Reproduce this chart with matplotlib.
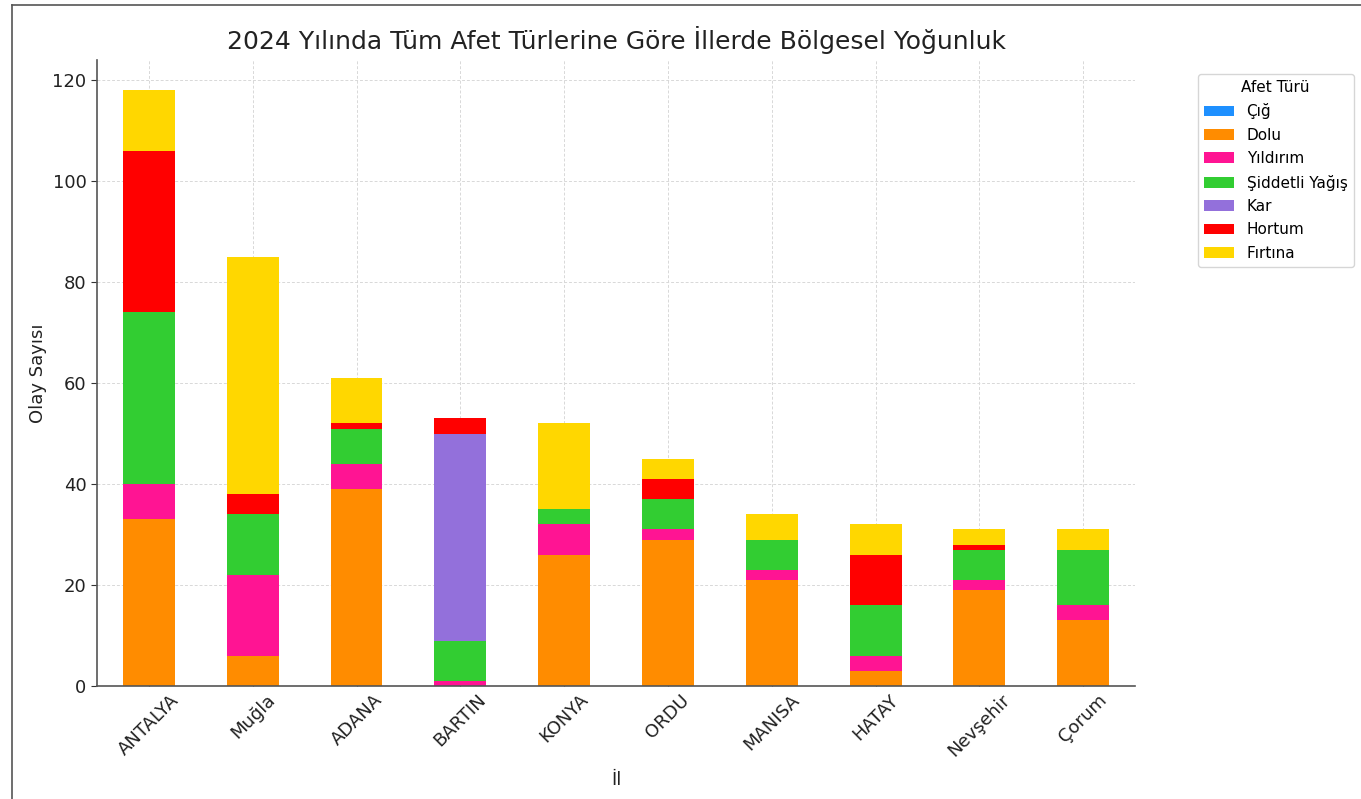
import matplotlib
matplotlib.use("Agg")
import matplotlib.pyplot as plt
from matplotlib.lines import Line2D
import numpy as np

provinces = ["ANTALYA", "Muğla", "ADANA", "BARTIN", "KONYA", "ORDU", "MANISA", "HATAY", "Nevşehir", "Çorum"]
disaster_types = ["Çığ", "Dolu", "Yıldırım", "Şiddetli Yağış", "Kar", "Hortum", "Fırtına"]

cig      = [0, 0, 0, 0, 0, 0, 0, 0, 0, 0]
dolu     = [33, 6, 39, 0, 26, 29, 21, 3, 19, 13]
yildirim = [7, 16, 5, 1, 6, 2, 2, 3, 2, 3]
siddetli = [34, 12, 7, 8, 3, 6, 6, 10, 6, 11]
kar      = [0, 0, 0, 41, 0, 0, 0, 0, 0, 0]
hortum   = [32, 4, 1, 3, 0, 4, 0, 10, 1, 0]
firtina  = [12, 47, 9, 0, 17, 4, 5, 6, 3, 4]

series = [cig, dolu, yildirim, siddetli, kar, hortum, firtina]
colors = ["#1E90FF", "#FF8C00", "#FF1493", "#32CD32", "#9370DB", "#FF0000", "#FFD700"]

plt.rcParams['font.family'] = ['DejaVu Sans']

fig = plt.figure(figsize=(13.61, 7.99), dpi=100)
ax = fig.add_axes([0.0713, 0.1414, 0.7627, 0.7836])

x = np.arange(len(provinces))
bottom = np.zeros(len(provinces))
for name, vals, c in zip(disaster_types, series, colors):
    v = np.array(vals, dtype=float)
    ax.bar(x, v, 0.5, bottom=bottom, color=c, label=name, zorder=2)
    bottom += v

ax.set_xlim(-0.5, 9.5)
ax.set_ylim(0, 124)
ax.set_xticks(x)
ax.set_xticklabels(provinces, rotation=45, fontsize=13)
ax.set_yticks([0, 20, 40, 60, 80, 100, 120])
ax.tick_params(axis='y', labelsize=13, colors='#333333', length=4)
ax.tick_params(axis='x', labelsize=13, colors='#333333', direction='in', length=4)
for lab in ax.get_xticklabels() + ax.get_yticklabels():
    lab.set_color('#222222')

ax.grid(True, linestyle=(0, (3, 2)), color='#d8d8d8', linewidth=0.7, zorder=0)
ax.set_axisbelow(True)
for s in ['top', 'right']:
    ax.spines[s].set_visible(False)
for s in ['left', 'bottom']:
    ax.spines[s].set_color('#555555')
    ax.spines[s].set_linewidth(1.2)

ax.set_title("2024 Yılında Tüm Afet Türlerine Göre İllerde Bölgesel Yoğunluk", fontsize=18, color='#222222', pad=8)
ax.set_ylabel("Olay Sayısı", fontsize=13, color='#222222')
ax.set_xlabel("İl", fontsize=13, color='#222222', labelpad=8)

leg = ax.legend(title="Afet Türü", bbox_to_anchor=(1.053, 0.99), loc='upper left',
                fontsize=11, title_fontsize=11, frameon=True, labelspacing=0.55)
leg.get_frame().set_edgecolor('#cccccc')

fig.add_artist(Line2D([12/1361, 12/1361], [0, 1 - 5/799], color='#555555', linewidth=1.2))
fig.add_artist(Line2D([12/1361, 1], [1 - 5/799, 1 - 5/799], color='#555555', linewidth=1.2))

fig.savefig("out.png", dpi=100)
